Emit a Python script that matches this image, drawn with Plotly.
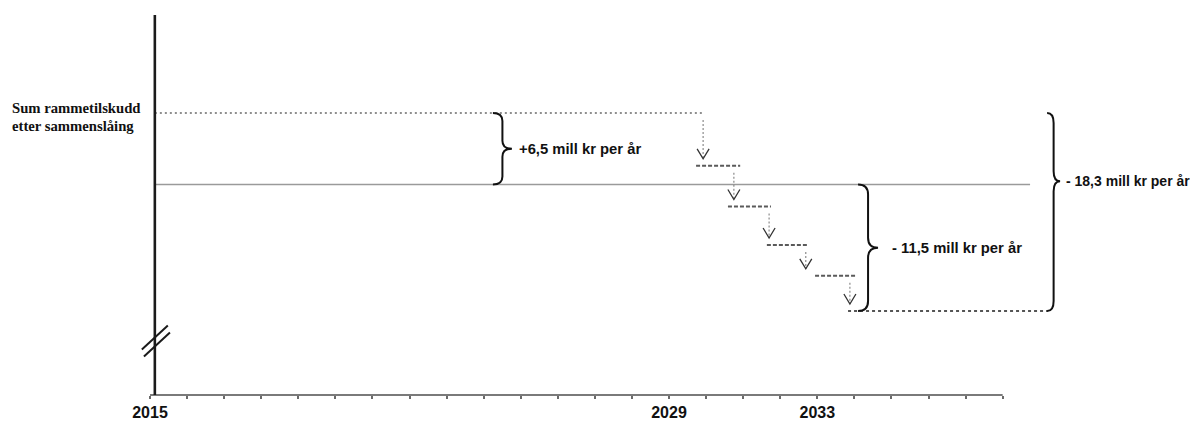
import plotly.graph_objects as go

# ---------------- data (schematic, mill kr per år relative to today's level) ----------------
tick_years = list(range(2015, 2039))
labelled_years = [2015, 2029, 2033]

level_after_merger = 6.5      # sum rammetilskudd etter sammenslåing
level_baseline = 0.0          # today's level
level_final = -11.5           # level after the phase-down

# stepwise phase-down levels and their year spans
step_levels = [6.5, 1.7, -2.0, -5.5, -8.3, -11.5]
step_starts = [2015.13, 2029.73, 2030.59, 2031.64, 2032.94, 2033.83]
step_ends = [2029.92, 2030.92, 2031.75, 2032.75, 2034.02, 2039.22]
arrow_years = [2029.92, 2030.75, 2031.70, 2032.69, 2033.88]
baseline_span = [2015.13, 2038.74]
axis_span = [2015, 2038]
yaxis_year = 2015.13
break_level = -13.9

left_label = ["Sum rammetilskudd", "etter sammenslåing"]
brace_texts = ["+6,5 mill kr per år", "- 11,5 mill kr per år", "- 18,3 mill kr per år"]
brace_years = [2024.25, 2034.10, 2039.20]

# ---------------- layout geometry (page has an 8px body margin) ----------------
W, H = 1190, 413
MB = 26
X_RANGE = [2011.169, 2043.270]
Y_RANGE = [-19.136, 16.045]
PX_X = W / (X_RANGE[1] - X_RANGE[0])          # pixels per year
PX_Y = (H - MB) / (Y_RANGE[1] - Y_RANGE[0])   # pixels per unit


def dx(px):
    return px / PX_X


def dy(px):
    return px / PX_Y


fig = go.Figure()

# baseline (solid grey)
fig.add_trace(go.Scatter(x=baseline_span, y=[level_baseline, level_baseline], mode="lines",
                         line=dict(color="#9a9a9a", width=1.6), hoverinfo="skip"))

# top dotted line (after merger)
fig.add_trace(go.Scatter(x=[step_starts[0], step_ends[0]], y=[step_levels[0]] * 2, mode="lines",
                         line=dict(color="#6a6a6a", width=1.6, dash="2px,3px"), hoverinfo="skip"))

# intermediate steps
sx, sy = [], []
for a, b, lv in zip(step_starts[1:-1], step_ends[1:-1], step_levels[1:-1]):
    sx += [a, b, None]
    sy += [lv, lv, None]
fig.add_trace(go.Scatter(x=sx, y=sy, mode="lines",
                         line=dict(color="#5a5a5a", width=2, dash="4px,2px"), hoverinfo="skip"))

# bottom dotted line
fig.add_trace(go.Scatter(x=[step_starts[-1], step_ends[-1]], y=[step_levels[-1]] * 2, mode="lines",
                         line=dict(color="#555555", width=2, dash="3px,3px"), hoverinfo="skip"))

# arrows: dotted shafts + open V heads
gap = dy(7)
hw, hh = dx(6), dy(10)
ax_, ay_, hx, hy = [], [], [], []
for i, xa in enumerate(arrow_years):
    y0 = step_levels[i] - gap
    tip = step_levels[i + 1] + gap
    ax_ += [xa, xa, None]
    ay_ += [y0, tip, None]
    hx += [xa - hw, xa, xa + hw, None]
    hy += [tip + hh, tip, tip + hh, None]
fig.add_trace(go.Scatter(x=ax_, y=ay_, mode="lines",
                         line=dict(color="#808080", width=1.1, dash="2px,2px"), hoverinfo="skip"))
fig.add_trace(go.Scatter(x=hx, y=hy, mode="lines",
                         line=dict(color="#333333", width=1.3), hoverinfo="skip"))


def brace_path(x0, yt, yb, ym, w_px, r_px):
    xm = x0 + dx(w_px) / 2
    xt = x0 + dx(w_px)
    r = dy(r_px)
    return (f"M {x0},{yt} Q {xm},{yt} {xm},{yt - r} L {xm},{ym + r} "
            f"Q {xm},{ym} {xt},{ym} Q {xm},{ym} {xm},{ym - r} "
            f"L {xm},{yb + r} Q {xm},{yb} {x0},{yb}")


braces = [
    (brace_years[0], level_after_merger, level_baseline, (level_after_merger + level_baseline) / 2, 19, 8, 5, 14.8),
    (brace_years[1], level_baseline, level_final, (level_baseline + level_final) / 2, 20, 10, 12, 14.8),
    (brace_years[2], level_after_merger, level_final, level_baseline + 0.3, 13, 10, 4, 14.0),
]
for (x0, yt, yb, ym, w, r, tgap, fs), txt in zip(braces, brace_texts):
    fig.add_shape(type="path", path=brace_path(x0, yt, yb, ym, w, r), xref="x", yref="y",
                  line=dict(color="#111111", width=2))
    fig.add_annotation(x=x0 + dx(w) + dx(tgap), y=ym, xref="x", yref="y", text=f"<b>{txt}</b>",
                       showarrow=False, xanchor="left", yanchor="middle",
                       font=dict(family="Liberation Sans, Arial", size=fs, color="#111111"))

# axes drawn as lines
fig.add_shape(type="line", x0=axis_span[0], x1=axis_span[1], y0=0, y1=0, xref="x", yref="paper",
              line=dict(color="#7a7a7a", width=1.8))
fig.add_shape(type="line", x0=yaxis_year, x1=yaxis_year, y0=0, y1=1 - 7 / (H - MB), xref="x",
              yref="paper", line=dict(color="#1a1a1a", width=2.6))

# axis break mark
for off in [0, 7]:
    fig.add_shape(type="line", xref="x", yref="y",
                  x0=yaxis_year - dx(13) + dx(off * 0.3), y0=break_level - dy(off) - dy(12),
                  x1=yaxis_year + dx(13) + dx(off * 0.3), y1=break_level - dy(off) + dy(12),
                  line=dict(color="#1a1a1a", width=2))

# left label
for i, line in enumerate(left_label):
    fig.add_annotation(x=X_RANGE[0], y=level_after_merger, xref="x", yref="y",
                       text=f"<b>{line}</b>", showarrow=False, xanchor="left", yanchor="middle",
                       xshift=2, yshift=5 - 18 * i,
                       font=dict(family="Liberation Serif, Times New Roman", size=14.7, color="#111111"))

fig.update_xaxes(range=X_RANGE, tickvals=tick_years,
                 ticktext=[f"<b>{y}</b>" if y in labelled_years else "" for y in tick_years],
                 ticks="outside", ticklen=3, tickwidth=1.5, tickcolor="#6a6a6a",
                 tickfont=dict(family="Liberation Sans, Arial", size=16, color="#111111"),
                 showgrid=False, zeroline=False, showline=False, fixedrange=True)
fig.update_yaxes(range=Y_RANGE, visible=False, showgrid=False, zeroline=False, fixedrange=True)

fig.update_layout(width=W, height=H, margin=dict(l=0, r=0, t=0, b=MB),
                  plot_bgcolor="white", paper_bgcolor="white", showlegend=False)

fig.write_html("out.html")
